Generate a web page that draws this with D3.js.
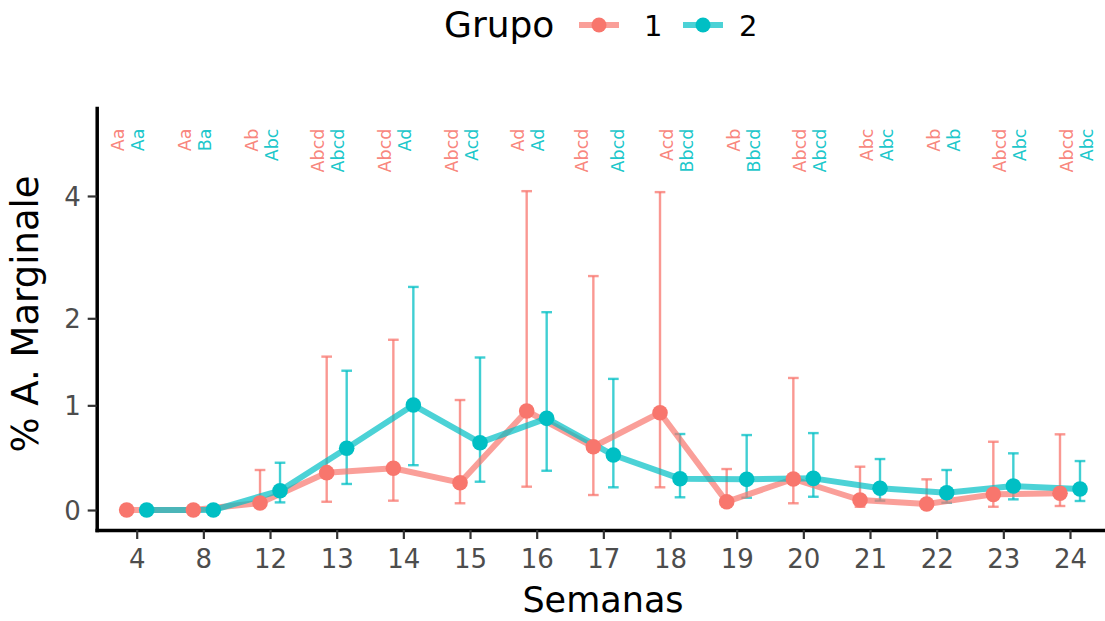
<!DOCTYPE html>
<html><head><meta charset="utf-8">
<script src="https://cdn.jsdelivr.net/npm/d3@7/dist/d3.min.js"></script>
<style>body{margin:0;background:#fff;} svg{display:block;}</style>
</head><body>
<svg id="chart" width="1105" height="621"></svg>
<script>
// ---------------- data ----------------
const weeks = ["4","8","12","13","14","15","16","17","18","19","20","21","22","23","24"];
const groupNames = ["1","2"];
const mean1  = [0,0,0.065,0.345,0.386,0.252,0.942,0.590,0.925,0.076,0.286,0.092,0.055,0.144,0.154];
const lower1 = [0,0,0.030,0.076,0.086,0.062,0.215,0.138,0.209,0.040,0.062,0.030,0.030,0.030,0.037];
const upper1 = [0,0,0.370,1.530,1.730,1.055,4.100,2.590,4.080,0.379,1.290,0.401,0.283,0.638,0.710];
const mean2  = [0,0,0.178,0.575,1.003,0.629,0.868,0.511,0.289,0.283,0.292,0.200,0.159,0.221,0.193];
const lower2 = [0,0,0.070,0.240,0.415,0.261,0.363,0.209,0.117,0.113,0.122,0.086,0.067,0.098,0.083];
const upper2 = [0,0,0.438,1.370,2.430,1.520,2.080,1.280,0.713,0.703,0.722,0.473,0.370,0.527,0.454];
const letters1 = ["Aa","Aa","Ab","Abcd","Abcd","Abcd","Ad","Abcd","Acd","Ab","Abcd","Abc","Ab","Abcd","Abcd"];
const letters2 = ["Aa","Ba","Abc","Abcd","Ad","Acd","Ad","Abcd","Bbcd","Bbcd","Abcd","Abc","Ab","Abc","Abc"];
const yTicks = [0,1,2,4];
const labelLevel = 5.6;      // data height where letter labels end
const yLimits = [-0.184, 6.19];

// ---------------- layout / style ----------------
const colors = ["#F8766D", "#00BFC4"];
const panel = {left: 96.7, right: 1110, top: 108, bottom: 530};
const FONT = "'DejaVu Sans', sans-serif";
const dodgeFrac = [-0.15, 0.15];
const labelShift = weeks.map((w,i) => i < 7 ? -0.13 : (i === 7 ? -0.05 : 0.10));
const labelHalf  = weeks.map((w,i) => i === 7 ? 0.27 : 0.15);

const svg = d3.select("#chart");

const x = d3.scalePoint().domain(weeks).range([panel.left, panel.right]).padding(0.6);
const step = x.step();
const tr = v => Math.asinh(v / 2);          // pseudo-log transform
const yLin = d3.scaleLinear().domain(yLimits.map(tr)).range([panel.bottom, panel.top]);
const y = v => yLin(tr(v));

const series = [
  {name: groupNames[0], mean: mean1, lo: lower1, hi: upper1, letters: letters1},
  {name: groupNames[1], mean: mean2, lo: lower2, hi: upper2, letters: letters2}
].map((s, gi) => ({...s, gi, pts: weeks.map((w, i) => ({w, i, m: s.mean[i], lo: s.lo[i], hi: s.hi[i]}))}));

const px = (d, gi) => x(d.w) + dodgeFrac[gi] * step;

// error bars
series.forEach(s => {
  const g = svg.append("g").attr("stroke", colors[s.gi]).attr("stroke-opacity", 0.75)
    .attr("stroke-width", 2.4).attr("fill", "none");
  const eb = s.pts.filter(d => d.hi > d.lo);
  const cap = 0.08 * step;
  g.selectAll("line.v").data(eb).join("line")
    .attr("x1", d => px(d, s.gi)).attr("x2", d => px(d, s.gi))
    .attr("y1", d => y(d.lo)).attr("y2", d => y(d.hi));
  g.selectAll("line.t").data(eb).join("line")
    .attr("x1", d => px(d, s.gi) - cap).attr("x2", d => px(d, s.gi) + cap)
    .attr("y1", d => y(d.hi)).attr("y2", d => y(d.hi));
  g.selectAll("line.b").data(eb).join("line")
    .attr("x1", d => px(d, s.gi) - cap).attr("x2", d => px(d, s.gi) + cap)
    .attr("y1", d => y(d.lo)).attr("y2", d => y(d.lo));
});

// lines
series.forEach(s => {
  const line = d3.line().x(d => px(d, s.gi)).y(d => y(d.m));
  svg.append("path").datum(s.pts).attr("d", line)
    .attr("fill", "none").attr("stroke", colors[s.gi]).attr("stroke-opacity", 0.7)
    .attr("stroke-width", 6).attr("stroke-linejoin", "round");
});

// points
series.forEach(s => {
  svg.append("g").selectAll("circle").data(s.pts).join("circle")
    .attr("cx", d => px(d, s.gi)).attr("cy", d => y(d.m)).attr("r", 7.8)
    .attr("fill", colors[s.gi]);
});

// letter labels
series.forEach(s => {
  const sign = s.gi === 0 ? -1 : 1;
  svg.append("g").selectAll("text").data(s.pts).join("text")
    .attr("transform", d => `translate(${x(d.w) + (labelShift[d.i] + sign * labelHalf[d.i]) * step},${y(labelLevel)}) rotate(-90)`)
    .attr("text-anchor", "end").attr("dy", "0.36em")
    .attr("font-family", FONT).attr("font-size", 17.5)
    .attr("fill", colors[s.gi]).attr("fill-opacity", 0.9)
    .text(d => s.letters[d.i]);
});

// axes
const gx = svg.append("g").attr("transform", `translate(0,${panel.bottom})`)
  .call(d3.axisBottom(x).tickSize(9).tickSizeOuter(0).tickPadding(6));
const gy = svg.append("g").attr("transform", `translate(${panel.left},0)`)
  .call(d3.axisLeft(yLin).tickValues(yTicks.map(tr)).tickFormat((d, i) => yTicks[i]).tickSize(9).tickSizeOuter(0).tickPadding(7));
[gx, gy].forEach(g => {
  g.select(".domain").attr("stroke", "#000").attr("stroke-width", 3.5).attr("stroke-linecap", "square");
  g.selectAll(".tick line").attr("stroke", "#333").attr("stroke-width", 2.2);
  g.selectAll(".tick text").attr("fill", "#4D4D4D").attr("font-family", FONT).attr("font-size", 26);
});
gx.selectAll(".tick text").attr("dy", "0.9em");
gy.selectAll(".tick text").attr("dy", "0.36em");

// axis titles
svg.append("text").attr("x", 603).attr("y", 612).attr("text-anchor", "middle")
  .attr("font-family", FONT).attr("font-size", 35).attr("fill", "#000").text("Semanas");
svg.append("text").attr("transform", `translate(38,${(panel.top + panel.bottom) / 2 - 5}) rotate(-90)`)
  .attr("text-anchor", "middle").attr("font-family", FONT).attr("font-size", 37).attr("fill", "#000")
  .text("% A. Marginale");

// legend
const lg = svg.append("g");
lg.append("text").attr("x", 444).attr("y", 37).attr("font-family", FONT).attr("font-size", 36)
  .attr("fill", "#000").text("Grupo");
const keyX = [599, 703], labX = [644, 739];
groupNames.forEach((n, gi) => {
  lg.append("line").attr("x1", keyX[gi] - 20).attr("x2", keyX[gi] + 20).attr("y1", 25).attr("y2", 25)
    .attr("stroke", colors[gi]).attr("stroke-opacity", 0.7).attr("stroke-width", 6);
  lg.append("circle").attr("cx", keyX[gi]).attr("cy", 25).attr("r", 7.5).attr("fill", colors[gi]);
  lg.append("text").attr("x", labX[gi]).attr("y", 36).attr("font-family", FONT).attr("font-size", 29)
    .attr("fill", "#000").text(n);
});
</script>
</body></html>
